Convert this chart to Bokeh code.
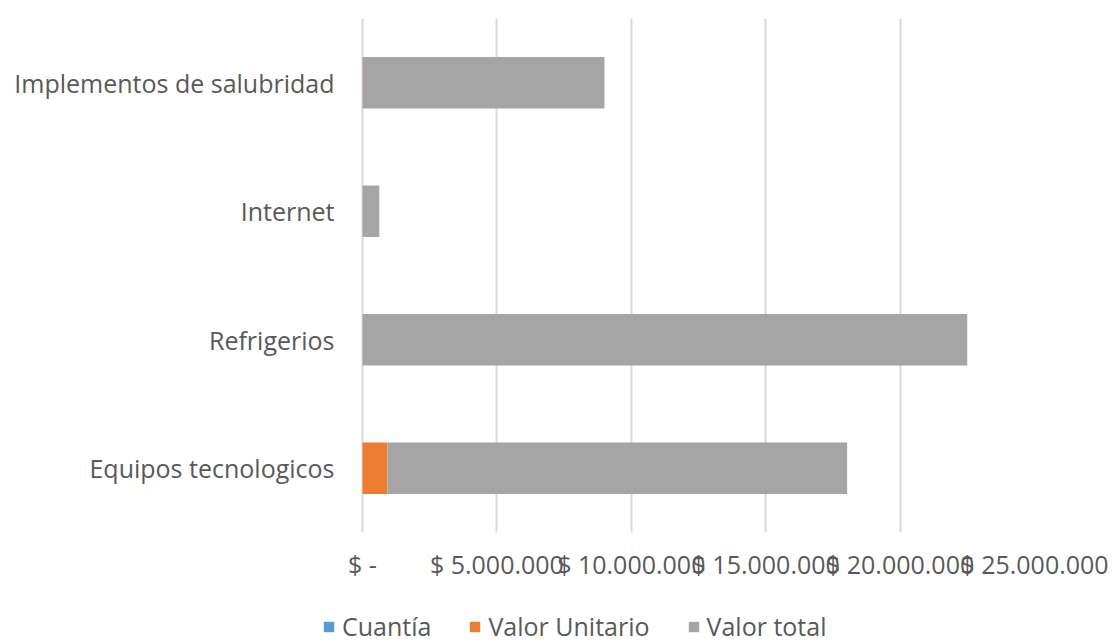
from bokeh.plotting import figure
from bokeh.layouts import column
from bokeh.models import Range1d, FactorRange, FixedTicker, Legend, LegendItem, ColumnDataSource
from bokeh.embed import file_html
from bokeh.resources import INLINE

categories = ["Equipos tecnologicos", "Refrigerios", "Internet", "Implementos de salubridad"]
series_names = ["Cuantía", "Valor Unitario", "Valor total"]
cuantia = [20, 3000, 6, 300]
valor_unitario = [930000, 5000, 5000, 10000]
valor_total = [17100000, 22490000, 620000, 8990000]
tick_values = [0, 5000000, 10000000, 15000000, 20000000, 25000000]
tick_labels = ["$ -", "$ 5.000.000", "$ 10.000.000", "$ 15.000.000", "$ 20.000.000", "$ 25.000.000"]
colors = ["#5B9BD5", "#ED7D31", "#A5A5A5"]

FONT = "Open Sans"
TXT = "#595959"
W = 1113
H1, H2 = 600, 42

FRAME_L, ZERO_PX, FRAME_R = 126, 362, 1034
FRAME_T, FRAME_B = 18, 532
XMAX = tick_values[-1]
x_start = -(ZERO_PX - FRAME_L) / (FRAME_R - ZERO_PX) * XMAX

source = ColumnDataSource(dict(cat=categories, cuantia=cuantia, unitario=valor_unitario, total=valor_total))
stack_cols = ["cuantia", "unitario", "total"]

p = figure(width=W, height=H1, y_range=FactorRange(*categories),
           x_range=Range1d(x_start, XMAX), output_backend="svg", toolbar_location=None,
           min_border_left=FRAME_L, min_border_right=W - FRAME_R, min_border_top=FRAME_T,
           min_border_bottom=H1 - FRAME_B)

p.hbar_stack(stack_cols, y="cat", height=0.4, color=colors, line_color=None, source=source)

p.outline_line_color = None
p.ygrid.grid_line_color = None
p.xgrid.grid_line_color = "#D9D9D9"
p.xgrid.grid_line_width = 2
p.xaxis.ticker = FixedTicker(ticks=tick_values)
p.xaxis.major_label_overrides = {v: l for v, l in zip(tick_values, tick_labels)}
for ax in (p.xaxis[0], p.yaxis[0]):
    ax.axis_line_color = None
    ax.major_tick_line_color = None
    ax.minor_tick_line_color = None
    ax.major_tick_out = 0
    ax.major_tick_in = 0
    ax.major_label_text_color = TXT
    ax.major_label_text_font = FONT
p.xaxis.major_label_text_font_size = "25px"
p.xaxis.major_label_standoff = 14
p.yaxis.major_label_text_font_size = "25px"
p.yaxis.major_label_standoff = FRAME_L - 334

# legend strip (same series, zero-height and out of view, so only the legend shows)
pl = figure(width=W, height=H2, y_range=FactorRange(*categories), x_range=Range1d(-2, -1),
            output_backend="svg", toolbar_location=None,
            min_border_left=FRAME_L, min_border_right=W - FRAME_R, min_border_top=0, min_border_bottom=0)
pl.axis.visible = False
pl.grid.visible = False
pl.outline_line_color = None
rs = pl.hbar_stack(stack_cols, y="cat", height=0, color=colors, line_color=None, source=source)

legend = Legend(items=[LegendItem(label=n, renderers=[r]) for n, r in zip(series_names, rs)],
                orientation="horizontal", location=(322 - FRAME_L, -1), margin=0, padding=0,
                spacing=37, label_standoff=7, glyph_width=13, glyph_height=13,
                border_line_color=None, background_fill_alpha=0,
                label_text_font=FONT, label_text_font_size="25px", label_text_color=TXT)
pl.add_layout(legend, "center")

layout = column(p, pl, spacing=0)
open("out.html", "w").write(file_html(layout, INLINE))
